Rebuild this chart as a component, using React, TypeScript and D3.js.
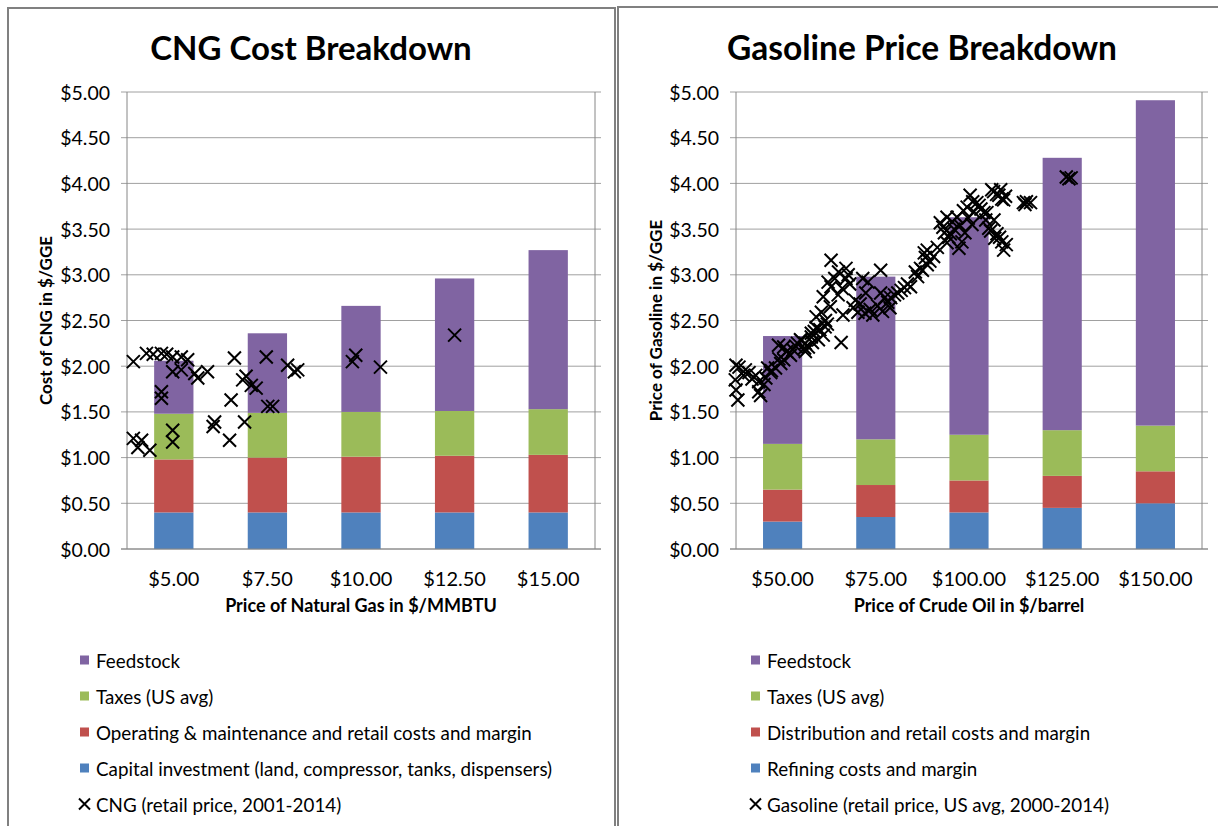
import React from 'react';
import * as d3 from 'd3';

const BLUE = '#4F81BD';
const RED = '#C0504D';
const GREEN = '#9BBB59';
const PURPLE = '#8064A2';
const FONT = "Lato, 'Open Sans', sans-serif";

// CNG chart
const cngCategories = [5, 7.5, 10, 12.5, 15];
const cngCapital = [0.4, 0.4, 0.4, 0.4, 0.4];
const cngOperating = [0.58, 0.6, 0.61, 0.62, 0.63];
const cngTaxes = [0.5, 0.49, 0.49, 0.49, 0.5];
const cngFeedstock = [0.58, 0.87, 1.16, 1.45, 1.74];
const cngLegend = [
  'Feedstock',
  'Taxes (US avg)',
  'Operating & maintenance and retail costs and margin',
  'Capital investment (land, compressor, tanks, dispensers)',
  'CNG (retail price, 2001-2014)',
];
// [natural gas price $/MMBTU, CNG retail $/GGE]
const cngRetail: [number, number][] = [
  [3.92, 2.05], [4.27, 2.14], [4.45, 2.13], [4.67, 2.14], [4.81, 2.13], [4.97, 2.1],
  [5.2, 2.1], [5.37, 2.07], [4.97, 1.94], [5.2, 1.96], [5.56, 1.92], [5.64, 1.87],
  [5.9, 1.94], [4.67, 1.72], [4.67, 1.65], [3.92, 1.21], [4.14, 1.19], [4.04, 1.11],
  [4.36, 1.08], [4.97, 1.3], [4.97, 1.17], [6.62, 2.09], [6.93, 1.89], [6.84, 1.85],
  [7.07, 1.79], [7.2, 1.76], [6.53, 1.63], [6.09, 1.39], [6.05, 1.34], [6.89, 1.39],
  [6.49, 1.19], [7.47, 2.1], [8.04, 2.01], [8.22, 1.94], [8.31, 1.96], [7.51, 1.56],
  [7.64, 1.56], [9.86, 2.12], [9.77, 2.05], [10.52, 1.99], [12.5, 2.34],
];

// Gasoline chart
const oilCategories = [50, 75, 100, 125, 150];
const oilRefining = [0.3, 0.35, 0.4, 0.45, 0.5];
const oilDistribution = [0.35, 0.35, 0.35, 0.35, 0.35];
const oilTaxes = [0.5, 0.5, 0.5, 0.5, 0.5];
const oilFeedstock = [1.18, 1.78, 2.38, 2.98, 3.56];
const oilLegend = [
  'Feedstock',
  'Taxes (US avg)',
  'Distribution and retail costs and margin',
  'Refining costs and margin',
  'Gasoline (retail price, US avg, 2000-2014)',
];
// [crude oil $/barrel, gasoline retail $/GGE]
const gasolineRetail: [number, number][] = [
  [37.5, 2.01], [38.3, 1.99], [37.3, 1.85], [37.5, 1.74], [38.0, 1.63], [41.0, 1.93],
  [42.8, 1.9], [43.6, 1.83], [44.1, 1.68], [45.5, 1.87], [46.8, 1.93], [48.1, 1.98],
  [49.5, 2.03], [50.3, 2.07], [48.9, 2.23], [50.3, 2.21], [51.1, 2.16], [52.1, 2.12],
  [54.8, 2.29], [56.1, 2.25], [56.9, 2.21], [57.7, 2.32], [59.0, 2.42], [61.4, 2.43],
  [59.6, 2.29], [56.1, 2.16], [57.7, 2.36], [60.9, 2.34], [55.9, 2.2], [65.7, 2.26],
  [39.5, 1.9], [43.6, 1.72], [47.0, 1.95], [53.5, 2.22], [58.0, 2.26],
  [40.0, 1.96], [41.8, 1.86], [45.0, 1.8], [46.0, 1.98], [49.0, 2.08], [52.8, 2.18],
  [54.0, 2.25], [55.0, 2.28],
  [63.0, 3.16], [67.0, 3.07], [67.6, 3.0], [67.0, 2.96], [62.2, 2.92], [63.0, 2.87],
  [64.9, 2.78], [60.9, 2.76], [62.8, 2.65], [60.4, 2.59], [59.0, 2.54], [66.2, 2.56],
  [68.9, 2.64], [70.2, 2.59], [72.1, 2.58], [74.2, 2.56], [71.5, 2.96], [72.9, 2.92],
  [76.3, 3.05], [72.3, 2.8], [76.3, 2.8], [77.4, 2.75], [78.2, 2.7], [79.0, 2.75],
  [80.9, 2.8], [82.7, 2.86], [84.3, 2.87], [86.2, 2.98], [87.5, 3.05], [85.6, 3.03],
  [87.0, 3.07], [88.3, 3.19], [88.8, 3.27], [88.0, 3.24], [88.8, 3.11],
  [64.0, 2.96], [65.0, 3.03], [66.0, 2.85], [68.0, 2.9], [69.5, 2.72], [70.8, 2.68],
  [73.5, 2.62], [75.5, 2.66], [76.8, 2.6], [78.8, 2.64], [80.0, 2.78], [81.8, 2.83],
  [83.5, 2.9], [61.5, 2.5], [62.0, 2.46], [58.5, 2.38], [60.0, 2.4],
  [92.3, 3.57], [94.1, 3.63], [93.4, 3.46], [94.1, 3.35], [94.6, 3.41], [97.3, 3.29],
  [98.1, 3.36], [98.9, 3.46], [97.6, 3.54], [96.8, 3.63], [99.5, 3.74], [100.3, 3.87],
  [101.3, 3.69], [102.1, 3.79], [102.7, 3.76], [104.0, 3.68], [104.8, 3.68], [105.3, 3.51],
  [106.7, 3.6], [106.9, 3.4], [108.2, 3.41], [108.8, 3.36], [109.3, 3.27], [106.1, 3.93],
  [106.6, 3.91], [107.4, 3.88], [108.0, 3.87], [108.8, 3.83], [109.3, 3.82], [114.6, 3.79],
  [115.4, 3.8], [116.5, 3.79], [126.1, 4.07], [127.4, 4.06],
  [95.5, 3.58], [96.0, 3.5], [99.8, 3.62], [100.8, 3.55], [103.2, 3.72], [101.0, 3.8],
  [98.5, 3.7], [95.0, 3.45], [93.0, 3.52], [104.5, 3.6], [105.8, 3.48], [107.5, 3.45],
  [110.0, 3.33], [108.5, 3.93], [109.8, 3.86], [115.0, 3.77], [126.8, 4.05], [91.5, 3.3],
  [90.5, 3.2], [89.5, 3.15],
];

const money = (v: number) => '$' + v.toFixed(2);

const Cross = ({ cx, cy, r = 6.5 }: { cx: number; cy: number; r?: number }) => (
  <path
    d={`M${cx - r},${cy - r}L${cx + r},${cy + r}M${cx - r},${cy + r}L${cx + r},${cy - r}`}
    stroke="#000"
    strokeWidth={2}
    fill="none"
  />
);

const Panel = ({ cfg }: { cfg: any }) => {
  const { left, right, top, bottom } = cfg;
  const x = d3
    .scaleBand<string>()
    .domain(cfg.categories.map(String))
    .range([left, right])
    .paddingInner(0.58)
    .paddingOuter(0.29);
  const y = d3.scaleLinear().domain([0, 5]).range([bottom, top]);
  const step = cfg.categories[1] - cfg.categories[0];
  // scatter sits on a value axis lined up with the category centres
  const xs = d3
    .scaleLinear()
    .domain([cfg.categories[0] - step / 2, cfg.categories[cfg.categories.length - 1] + step / 2])
    .range([left, right]);

  const keys = ['s0', 's1', 's2', 's3'];
  const colors = [BLUE, RED, GREEN, PURPLE];
  const rows = cfg.categories.map((c: number, i: number) => ({
    cat: String(c),
    s0: cfg.series[0][i],
    s1: cfg.series[1][i],
    s2: cfg.series[2][i],
    s3: cfg.series[3][i],
  }));
  const stacked = d3.stack<any>().keys(keys)(rows);
  const ticks = y.ticks(10);
  const legendColors = [PURPLE, GREEN, RED, BLUE];
  const legendY0 = 660;
  const legendStep = 36;

  return (
    <g fontFamily={FONT}>
      <text x={cfg.titleX} y={47} textAnchor="middle" dominantBaseline="central" fontSize={cfg.titleSize} fontWeight="bold">
        {cfg.title}
      </text>
      {ticks.map((t) => (
        <g key={t}>
          <line x1={left - 6} x2={right + 6} y1={y(t)} y2={y(t)} stroke="#a0a0a0" strokeWidth={1} />
          <text
            x={cfg.tickRight}
            y={y(t)}
            textAnchor="end"
            dominantBaseline="central"
            fontSize={19.5}
            fill="#000"
          >
            {money(t)}
          </text>
        </g>
      ))}
      <line x1={left} x2={left} y1={top} y2={bottom} stroke="#868686" strokeWidth={1} />
      <line x1={right} x2={right} y1={top} y2={bottom} stroke="#868686" strokeWidth={1} />
      {stacked.map((layer, li) => (
        <g key={li} fill={colors[li]}>
          {layer.map((d: any, i: number) => (
            <rect
              key={i}
              x={x(d.data.cat)}
              width={x.bandwidth()}
              y={y(d[1])}
              height={y(d[0]) - y(d[1])}
            />
          ))}
        </g>
      ))}
      <line x1={left - 6} x2={right + 6} y1={bottom} y2={bottom} stroke="#868686" strokeWidth={1} />
      {cfg.scatter.map((p: [number, number], i: number) => (
        <Cross key={i} cx={xs(p[0])} cy={y(p[1])} />
      ))}
      {cfg.categories.map((c: number) => (
        <text
          key={c}
          x={(x(String(c)) as number) + x.bandwidth() / 2}
          y={578}
          textAnchor="middle"
          dominantBaseline="central"
          fontSize={20}
        >
          {money(c)}
        </text>
      ))}
      <text x={(left + right) / 2} y={605} textAnchor="middle" dominantBaseline="central" fontSize={18} fontWeight="bold">
        {cfg.xTitle}
      </text>
      <text
        transform={`translate(${cfg.yTitleX},${(top + bottom) / 2}) rotate(-90)`}
        textAnchor="middle"
        dominantBaseline="central"
        fontSize={17}
        fontWeight="bold"
      >
        {cfg.yTitle}
      </text>
      {cfg.legend.map((label: string, i: number) => {
        const cy = legendY0 + i * legendStep;
        return (
          <g key={label}>
            {i < 4 ? (
              <rect x={cfg.legendX} y={cy - 4.5} width={9} height={9} fill={legendColors[i]} />
            ) : (
              <Cross cx={cfg.legendX + 4.5} cy={cy} r={5.5} />
            )}
            <text x={cfg.legendX + 16} y={cy} dominantBaseline="central" fontSize={18.8}>
              {label}
            </text>
          </g>
        );
      })}
    </g>
  );
};

const App = () => {
  const cng = {
    title: 'CNG Cost Breakdown',
    titleX: 311,
    titleSize: 33,
    left: 127,
    right: 595,
    top: 92,
    bottom: 549,
    tickRight: 110,
    yTitleX: 45,
    categories: cngCategories,
    series: [cngCapital, cngOperating, cngTaxes, cngFeedstock],
    scatter: cngRetail,
    xTitle: 'Price of Natural Gas in $/MMBTU',
    yTitle: 'Cost of CNG in $/GGE',
    legend: cngLegend,
    legendX: 80,
  };
  const gas = {
    title: 'Gasoline Price Breakdown',
    titleX: 922,
    titleSize: 33.5,
    left: 736,
    right: 1202,
    top: 92,
    bottom: 549,
    tickRight: 719,
    yTitleX: 655,
    categories: oilCategories,
    series: [oilRefining, oilDistribution, oilTaxes, oilFeedstock],
    scatter: gasolineRetail,
    xTitle: 'Price of Crude Oil in $/barrel',
    yTitle: 'Price of Gasoline in $/GGE',
    legend: oilLegend,
    legendX: 751,
  };
  return (
    <svg
      width={1218}
      height={826}
      style={{ position: 'absolute', left: 0, top: 0, background: '#fff' }}
    >
      <rect x={0} y={0} width={1218} height={826} fill="#fff" />
      <rect x={8} y={8} width={607} height={840} fill="none" stroke="#808080" strokeWidth={2} />
      <rect x={618} y={7} width={640} height={840} fill="none" stroke="#808080" strokeWidth={2} />
      <Panel cfg={cng} />
      <Panel cfg={gas} />
    </svg>
  );
};

export default App;
